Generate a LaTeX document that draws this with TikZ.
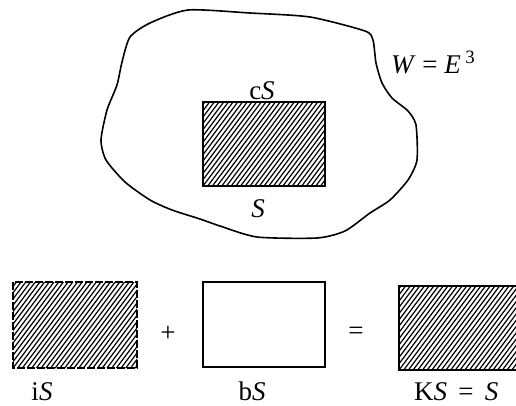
\documentclass[tikz,border=0pt]{standalone}
\usepackage{fontspec}
\setmainfont{Liberation Serif}
\tikzset{
  outline/.style={line width=1.6pt, line join=round},
  boxline/.style={line width=1.5pt},
  hatchline/.style={line width=1.2pt},
  lbl/.style={inner sep=0pt, font=\fontsize{27}{32}\selectfont},
}
\newcommand\hatchfill[4]{%
  \begin{scope}
    \clip (#1,#2) rectangle (#3,#4);
    \foreach \k in {-16,...,32}
      \draw[hatchline] ({#1+\k*4.7},{#4}) -- ++({0.75*(#4-#2)},{-(#4-#2)});
  \end{scope}}
\begin{document}
\begin{tikzpicture}[x=1pt,y=-1pt]
\useasboundingbox[fill=white] (0,0) rectangle (516,405);
% blob W
\draw[outline, fill=white] plot[smooth cycle, tension=0.4] coordinates {
 (188,10) (250,13) (310,17) (365,31) (373,40) (376,63) (382,83) (392,98)
 (408,111) (416,125) (417,160) (408,180) (390,200) (370,213) (345,231)
 (317,238) (257,237) (220,226) (200,219) (172,210) (150,200) (125,182)
 (106,160) (101,140) (107,110) (117,85) (122,62) (130,37) (150,23)};
% S inside W
\hatchfill{203}{102}{325}{186}
\draw[boxline] (203,102) rectangle (325,186);
\node[lbl, anchor=base] (cS) at (262,99) {c\textit{S}};
\node[lbl, anchor=base] (S) at (258,217) {\textit{S}};
\node[lbl, anchor=base west] (W) at (391,73) {\textit{W} = \textit{E}\,\textsuperscript{3}};
% iS
\hatchfill{13}{282}{137}{368}
\draw[boxline, dash pattern=on 8pt off 2pt] (13,282) rectangle (137,368);
\node[lbl, anchor=base] (iS) at (42,400) {i\textit{S}};
\node[lbl, anchor=base] (plus) at (168,341) {+};
% bS
\draw[boxline] (203,282) rectangle (325,367);
\node[lbl, anchor=base] (bS) at (252,400) {b\textit{S}};
\node[lbl, anchor=base] (eq) at (356,339) {=};
% KS
\hatchfill{399}{286}{530}{370}
\draw[boxline] (530,370) -- (399,370) -- (399,286) -- (530,286);
\node[lbl, anchor=base west] (KS) at (414,400) {K\textit{S}\, = \,\textit{S}};
\end{tikzpicture}
\end{document}
